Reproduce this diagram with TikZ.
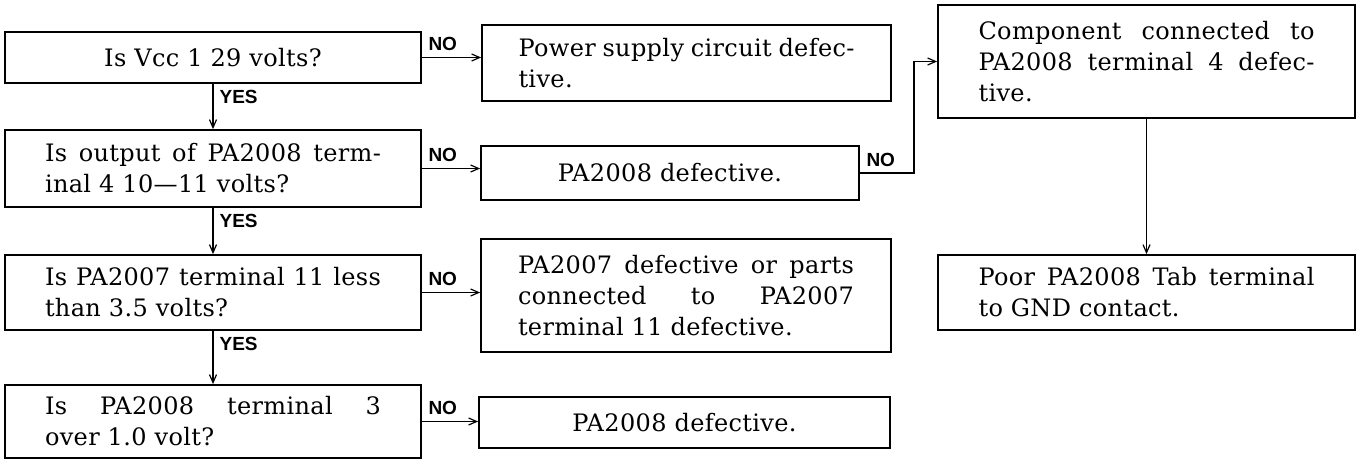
\documentclass[tikz,border=0pt]{standalone}
\usepackage{fontspec}
\setmainfont{DejaVu Serif}[LetterSpace=1.5]
\setsansfont{Liberation Sans}
\usetikzlibrary{arrows.meta}
\tikzset{
  box/.style={draw, line width=0.9pt, inner sep=0pt, text width=168pt,
    align=justify, font=\fontsize{12}{15.5}\selectfont},
  arr/.style={line width=0.6pt, -{Straight Barb[length=4pt,width=3.5pt]}},
  lbl/.style={font=\sffamily\bfseries\fontsize{9.5}{10}\selectfont, inner sep=3pt},
}
\begin{document}
\begin{tikzpicture}[x=0.5pt,y=-0.5pt]
\useasboundingbox (0,0) rectangle (1358,460);
\node[box, align=center, minimum width=208pt, minimum height=25.5pt] (q1) at (213,57.5) {Is Vcc 1 29 volts?};
\node[box, minimum width=208pt, minimum height=38.5pt] (q2) at (213,168.5) {Is output of PA2008 term-\linebreak inal 4 10—11 volts?};
\node[box, minimum width=208pt, minimum height=37.5pt] (q3) at (213,292.5) {Is PA2007 terminal 11 less\linebreak than 3.5 volts?};
\node[box, minimum width=208pt, minimum height=36.5pt] (q4) at (213,421.5) {Is PA2008 terminal 3\linebreak over 1.0 volt?};
\node[box, minimum width=204.5pt, minimum height=38pt] (a1) at (686.5,63) {Power supply circuit defec-\linebreak tive.};
\node[box, align=center, minimum width=189pt, minimum height=27pt] (a2) at (670,173) {PA2008 defective.};
\node[box, minimum width=205pt, minimum height=56.5pt] (a3) at (686,295.5) {PA2007 defective or parts\linebreak connected to PA2007\linebreak terminal 11 defective.};
\node[box, align=center, minimum width=205.5pt, minimum height=25.5pt] (a4) at (684.5,422.5) {PA2008 defective.};
\node[box, minimum width=208.5pt, minimum height=56.5pt] (c1) at (1146.5,61.5) {Component connected to\linebreak PA2008 terminal 4 defec-\linebreak tive.};
\node[box, minimum width=208.5pt, minimum height=37.5pt] (c2) at (1146.5,292.5) {Poor PA2008 Tab terminal\linebreak to GND contact.};
\draw[arr] (q1.south) -- node[lbl, anchor=north west, pos=0] {YES} (q2.north);
\draw[arr] (q2.south) -- node[lbl, anchor=north west, pos=0] {YES} (q3.north);
\draw[arr] (q3.south) -- node[lbl, anchor=north west, pos=0] {YES} (q4.north);
\draw[arr] (q1.east) -- node[lbl, anchor=south west, pos=0] {NO} (q1.east -| a1.west);
\draw[arr] (q2.east) -- node[lbl, anchor=south west, pos=0] {NO} (q2.east -| a2.west);
\draw[arr] (q3.east) -- node[lbl, anchor=south west, pos=0] {NO} (q3.east -| a3.west);
\draw[arr] (q4.east) -- node[lbl, anchor=south west, pos=0] {NO} (q4.east -| a4.west);
\draw[arr] (a2.east) -- node[lbl, anchor=south west, pos=0] {NO} ++(54,0) |- (c1.west);
\draw[arr] (c1.south) -- (c2.north);
\end{tikzpicture}
\end{document}
